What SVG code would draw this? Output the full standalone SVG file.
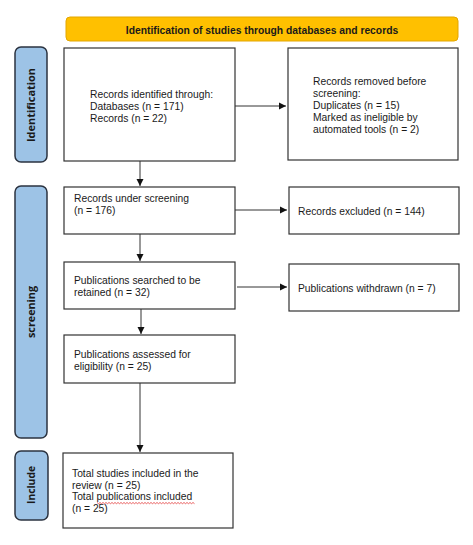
<svg xmlns="http://www.w3.org/2000/svg" width="473" height="545" viewBox="0 0 473 545">
<style>
.box{fill:#fff;stroke:#333;stroke-width:1.2}
.side{fill:#9DC3E6;stroke:#2b3340;stroke-width:1.5}
.t{font-family:"Liberation Sans",Arial,sans-serif;font-size:10.3px;fill:#1a1a1a}
.h{font-family:"Liberation Sans",Arial,sans-serif;font-size:10.3px;font-weight:bold;fill:#1a1a1a}
.s{font-family:"Open Sans","Liberation Sans",sans-serif;font-size:10.5px;font-weight:bold;fill:#1a1a1a}
.c{stroke:#333;stroke-width:1;fill:none;marker-end:url(#ah)}
</style>
<defs>
<marker id="ah" markerWidth="8" markerHeight="8" refX="7" refY="4" orient="auto" markerUnits="userSpaceOnUse">
<path d="M0,0.5 L7,4 L0,7.5 Z" fill="#111"/>
</marker>
</defs>
<rect width="473" height="545" fill="#fff"/>
<g id="header">
<rect x="66" y="17" width="392" height="24" rx="4" fill="#FFC000" stroke="#E3A600" stroke-width="1"/>
<text class="h" x="262" y="33.5" text-anchor="middle">Identification of studies through databases and records</text>
</g>
<g id="side-identification">
<rect class="side" x="15" y="47" width="32" height="115" rx="6"/>
<text class="s" transform="translate(35,105) rotate(-90)" text-anchor="middle" textLength="74" lengthAdjust="spacingAndGlyphs">Identification</text>
</g>
<g id="side-screening">
<rect class="side" x="15" y="186" width="32" height="252" rx="6"/>
<text class="s" transform="translate(35,312) rotate(-90)" text-anchor="middle" textLength="52" lengthAdjust="spacingAndGlyphs">screening</text>
</g>
<g id="side-include">
<rect class="side" x="15" y="451" width="33" height="69" rx="6"/>
<text class="s" transform="translate(35,485) rotate(-90)" text-anchor="middle" textLength="38" lengthAdjust="spacingAndGlyphs">Include</text>
</g>
<g id="n1">
<rect class="box" x="64" y="48" width="171" height="113"/>
<text class="t" x="90" y="98">Records identified through:</text>
<text class="t" x="90" y="110">Databases (n = 171)</text>
<text class="t" x="90" y="121.5">Records (n = 22)</text>
</g>
<g id="n2">
<rect class="box" x="288" y="48" width="170" height="112"/>
<text class="t" x="313" y="85">Records removed before</text>
<text class="t" x="313" y="97">screening:</text>
<text class="t" x="313" y="109">Duplicates (n = 15)</text>
<text class="t" x="313" y="121">Marked as ineligible by</text>
<text class="t" x="313" y="132.5">automated tools (n = 2)</text>
</g>
<g id="n3">
<rect class="box" x="64" y="187" width="171" height="47"/>
<text class="t" x="74" y="202">Records under screening</text>
<text class="t" x="74" y="214">(n = 176)</text>
</g>
<g id="n4">
<rect class="box" x="289" y="187" width="170" height="47"/>
<text class="t" x="298" y="215">Records excluded (n = 144)</text>
</g>
<g id="n5">
<rect class="box" x="64" y="262" width="171" height="47"/>
<text class="t" x="74" y="283.5">Publications searched to be</text>
<text class="t" x="74" y="296">retained (n = 32)</text>
</g>
<g id="n6">
<rect class="box" x="289" y="264" width="170" height="47"/>
<text class="t" x="298" y="291.5">Publications withdrawn (n = 7)</text>
</g>
<g id="n7">
<rect class="box" x="64" y="335" width="171" height="48"/>
<text class="t" x="74" y="358">Publications assessed for</text>
<text class="t" x="74" y="370">eligibility (n = 25)</text>
</g>
<g id="n8">
<rect class="box" x="63" y="453" width="170" height="75"/>
<text class="t" x="72" y="477">Total studies included in the</text>
<text class="t" x="72" y="489">review (n = 25)</text>
<text class="t" x="72" y="500">Total publications included</text>
<text class="t" x="72" y="512">(n = 25)</text>
<path d="M97,502.5 l1.5,1.2 l1.5,-1.2 l1.5,1.2 l1.5,-1.2 l1.5,1.2 l1.5,-1.2 l1.5,1.2 l1.5,-1.2 l1.5,1.2 l1.5,-1.2 l1.5,1.2 l1.5,-1.2 l1.5,1.2 l1.5,-1.2 l1.5,1.2 l1.5,-1.2 l1.5,1.2 l1.5,-1.2 l1.5,1.2 l1.5,-1.2 l1.5,1.2 l1.5,-1.2 l1.5,1.2 l1.5,-1.2 l1.5,1.2 l1.5,-1.2 l1.5,1.2 l1.5,-1.2 l1.5,1.2 l1.5,-1.2 l1.5,1.2 l1.5,-1.2 l1.5,1.2 l1.5,-1.2 l1.5,1.2 l1.5,-1.2 l1.5,1.2 l1.5,-1.2 l1.5,1.2 l1.5,-1.2 l1.5,1.2 l1.5,-1.2 l1.5,1.2 l1.5,-1.2 l1.5,1.2 l1.5,-1.2 l1.5,1.2 l1.5,-1.2 l1.5,1.2 l1.5,-1.2 l1.5,1.2 l1.5,-1.2 l1.5,1.2 l1.5,-1.2 l1.5,1.2 l1.5,-1.2 l1.5,1.2 l1.5,-1.2 l1.5,1.2 l1.5,-1.2 l1.5,1.2 l1.5,-1.2 l1.5,1.2 l1.5,-1.2 l1.5,1.2" fill="none" stroke="#e02020" stroke-width="0.7"/>
</g>
<g id="connectors">
<line class="c" x1="235" y1="106" x2="286" y2="106"/>
<line class="c" x1="140" y1="161" x2="140" y2="186"/>
<line class="c" x1="235" y1="210" x2="287" y2="210"/>
<line class="c" x1="140" y1="234" x2="140" y2="261"/>
<line class="c" x1="237" y1="287" x2="287" y2="287"/>
<line class="c" x1="141" y1="309" x2="141" y2="334"/>
<line class="c" x1="140" y1="383" x2="140" y2="452"/>
</g>
</svg>
